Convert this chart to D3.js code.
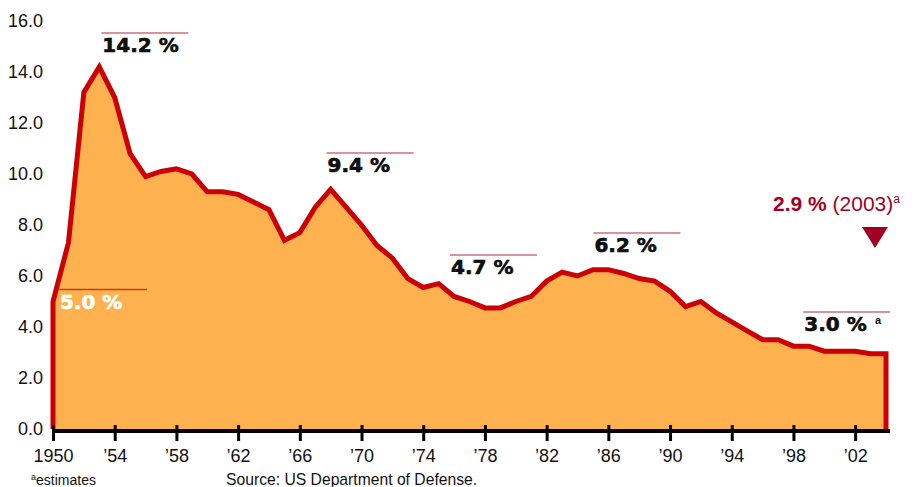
<!DOCTYPE html>
<html>
<head>
    <title>US defense outlays, % of GDP</title>
    <script src="https://d3js.org/d3.v7.min.js"></script>
    <style>
        body {
            margin: 0;
            background: #fff;
        }
        svg text {
            font-family: "Liberation Sans", Arial, Helvetica, sans-serif;
            fill: #111;
        }
        .axis text {
            font-size: 18px;
        }
        .callout {
            font-family: "DejaVu Sans", sans-serif !important;
            font-weight: bold;
            font-size: 20px;
            stroke: #000;
            stroke-width: 0.6px;
        }
    </style>
</head>
<body>
    <div id="chart"></div>

    <script>
        // values (% of GDP)
        const years = d3.range(1950, 2005);
        const shares = [
            5.0, 7.3, 13.2, 14.2, 13.0, 10.8, 9.9, 10.1, 10.2, 10.0,
            9.3, 9.3, 9.2, 8.9, 8.6, 7.4, 7.7, 8.7, 9.4, 8.7,
            8.0, 7.2, 6.7, 5.9, 5.55, 5.7, 5.2, 5.0, 4.75, 4.75,
            5.0, 5.2, 5.8, 6.15, 6.0, 6.25, 6.25, 6.1, 5.9, 5.8,
            5.4, 4.8, 5.0, 4.55, 4.2, 3.85, 3.5, 3.5, 3.25, 3.25,
            3.05, 3.05, 3.05, 2.95, 2.95
        ];
        const xTicks = [1950, 1954, 1958, 1962, 1966, 1970, 1974, 1978, 1982, 1986, 1990, 1994, 1998, 2002];
        const yTicks = [0, 2, 4, 6, 8, 10, 12, 14, 16];

        // callouts: label, year anchor and the value level the text baseline sits at
        const callouts = [
            {text: "14.2 %", year: 1953.2, level: 14.78},
            {text: "9.4 %",  year: 1967.8, level: 10.08},
            {text: "4.7 %",  year: 1975.8, level: 6.08},
            {text: "6.2 %",  year: 1985.1, level: 6.94},
            {text: "3.0 %",  year: 1998.7, level: 3.84}
        ];

        const width = 916, height = 487;
        const data = years.map((yr, i) => ({year: yr, value: shares[i]}));

        const x = d3.scaleLinear().domain([1950, 2004]).range([53, 886]);
        const y = d3.scaleLinear().domain([0, 16]).range([429, 21]);

        const svg = d3.select("#chart").append("svg")
            .attr("width", width)
            .attr("height", height);

        // filled area
        const area = d3.area()
            .x(d => x(d.year))
            .y0(y(0))
            .y1(d => y(d.value));

        svg.append("path")
            .datum(data)
            .attr("d", area)
            .attr("fill", "#fdb24f");

        // outline incl. vertical drops at both ends
        const outline = [{year: 1950, value: 0}, ...data, {year: 2004, value: 0}];
        svg.append("path")
            .datum(outline)
            .attr("d", d3.line().x(d => x(d.year)).y(d => y(d.value)))
            .attr("fill", "none")
            .attr("stroke", "#cc0000")
            .attr("stroke-width", 5)
            .attr("stroke-linejoin", "miter");

        // x axis
        const xAxis = svg.append("g")
            .attr("class", "axis")
            .attr("transform", `translate(0,${y(0) + 2})`)
            .call(d3.axisBottom(x)
                .tickValues(xTicks)
                .tickSize(10)
                .tickPadding(8)
                .tickFormat(d => d === 1950 ? "1950" : "\u2019" + String(d).slice(2)));
        xAxis.select(".domain").remove();
        xAxis.selectAll(".tick line")
            .attr("y1", -6)
            .attr("stroke", "#000")
            .attr("stroke-width", 3);
        xAxis.selectAll(".tick text").attr("fill", "#111");

        svg.append("line")
            .attr("x1", x(1950) - 1).attr("x2", x(2004) + 4)
            .attr("y1", y(0) + 2).attr("y2", y(0) + 2)
            .attr("stroke", "#000")
            .attr("stroke-width", 4);

        // y axis (labels only)
        const yAxis = svg.append("g")
            .attr("class", "axis")
            .attr("transform", "translate(43,0)")
            .call(d3.axisLeft(y)
                .tickValues(yTicks)
                .tickSize(0)
                .tickPadding(0)
                .tickFormat(d3.format(".1f")));
        yAxis.select(".domain").remove();
        yAxis.selectAll(".tick text").attr("fill", "#111");

        // callouts with rule above
        callouts.forEach(c => {
            const tx = x(c.year);
            const ty = y(c.level);
            svg.append("line")
                .attr("x1", tx - 1).attr("x2", tx + 86)
                .attr("y1", ty - 19).attr("y2", ty - 19)
                .attr("stroke", "#c8707f")
                .attr("stroke-width", 1.5);
            svg.append("text")
                .attr("class", "callout")
                .attr("x", tx)
                .attr("y", ty)
                .text(c.text);
        });

        // superscript on the 2004 callout
        svg.append("text")
            .attr("x", 875)
            .attr("y", y(3.84) - 7)
            .attr("font-size", 11)
            .attr("font-weight", "bold")
            .text("a");

        // 1950 callout, white on the fill
        svg.append("line")
            .attr("x1", x(1950.4)).attr("x2", x(1956.1))
            .attr("y1", 289.5).attr("y2", 289.5)
            .attr("stroke", "#c83c10")
            .attr("stroke-width", 1.5);
        svg.append("text")
            .attr("class", "callout")
            .attr("x", x(1950.45))
            .attr("y", 309)
            .style("fill", "#fff")
            .style("stroke", "#fff")
            .text("5.0 %");

        // 2003 marker
        const marker = svg.append("text")
            .attr("x", 773)
            .attr("y", 211)
            .style("fill", "#a30021");
        marker.append("tspan")
            .attr("font-weight", "bold")
            .attr("font-size", 21)
            .text("2.9 %");
        marker.append("tspan")
            .attr("font-size", 21)
            .text(" (2003)");
        marker.append("tspan")
            .attr("font-size", 12)
            .attr("dy", -8)
            .text("a");

        const tri = 875;
        svg.append("path")
            .attr("d", `M${tri - 13},227 L${tri + 13},227 L${tri},248 Z`)
            .attr("fill", "#a30021");

        // footer notes
        const note = svg.append("text")
            .attr("x", 31)
            .attr("y", 485)
            .attr("font-size", 14);
        note.append("tspan").attr("font-size", 9).attr("dy", -5).text("a");
        note.append("tspan").attr("dy", 5).text("estimates");

        svg.append("text")
            .attr("x", 226)
            .attr("y", 485)
            .attr("font-size", 15.7)
            .text("Source: US Department of Defense.");
    </script>
</body>
</html>
